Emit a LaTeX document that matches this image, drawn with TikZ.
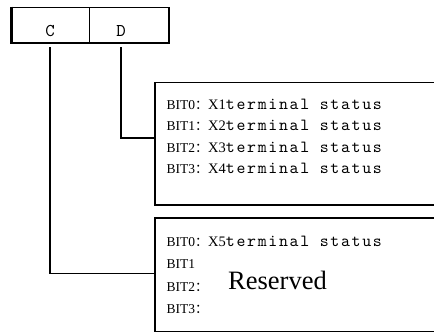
\documentclass[tikz,border=0pt]{standalone}
\usepackage{fontspec}
\setmainfont{Liberation Serif}
\newfontfamily\cjk{Noto Sans CJK SC}
\newfontfamily\mono{lmmono10-regular.otf}[LetterSpace=10]
\newfontfamily\monoplain{lmmono10-regular.otf}
\newcommand{\bitline}[2]{BIT#1{\cjk\fontsize{13}{14}\selectfont ：}{\fontsize{14.5}{14}\selectfont X#2}{\mono\fontsize{17}{14}\selectfont terminal status}}
\begin{document}
\begin{tikzpicture}[x=1pt,y=-1pt,
  wire/.style={line width=1.5pt},
  txt/.style={anchor=base west,inner sep=0pt,font=\fontsize{13.5}{14}\selectfont},
  cell/.style={draw,line width=1.5pt,anchor=north west,inner sep=0pt},
  bitbox/.style={draw,line width=1.5pt,anchor=north west,inner sep=0pt,minimum width=320pt},
  lbl/.style={anchor=base,inner sep=0pt,font=\monoplain\fontsize{18}{18}\selectfont}]
\useasboundingbox (0,0) rectangle (434,332);
% top register box
\node[cell,minimum width=77pt,minimum height=35.5pt] (cellC) at (11.5,6.5) {};
\node[cell,minimum width=79.5pt,minimum height=35.5pt] (cellD) at (88.5,6.5) {};
\draw[line width=3pt] (cellC.north west) -- (cellC.south west);
\node[lbl] (labC) at (50,36) {C};
\node[lbl] (labD) at (121,36) {D};
% bit boxes
\node[bitbox,minimum height=122.5pt] (box1) at (154,81.5) {};
\node[bitbox,minimum height=113.5pt] (box2) at (154,217) {};
% connectors
\coordinate (cD) at (121,47);
\coordinate (cC) at (50,47);
\coordinate (jD) at (154,138);
\coordinate (jC) at (154,273.5);
\draw[wire] (cD) |- (jD);
\draw[wire] (cC) |- (jC);
% texts box 1
\node[txt] (a0) at (166.5,109) {\bitline{0}{1}};
\node[txt] (a1) at (166.5,130.5) {\bitline{1}{2}};
\node[txt] (a2) at (166.5,152) {\bitline{2}{3}};
\node[txt] (a3) at (166.5,173.5) {\bitline{3}{4}};
% texts box 2
\node[txt] (b0) at (166.5,246) {\bitline{0}{5}};
\node[txt] (b1) at (166.5,268.5) {BIT1};
\node[txt] (b2) at (166.5,291) {BIT2{\cjk\fontsize{13}{14}\selectfont ：}};
\node[txt] (b3) at (166.5,313.5) {BIT3{\cjk\fontsize{13}{14}\selectfont ：}};
\node[anchor=base west,inner sep=0pt,font=\fontsize{26.5}{30}\selectfont] (res) at (228,289) {Reserved};
\end{tikzpicture}
\end{document}
